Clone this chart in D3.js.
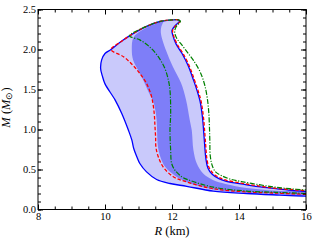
<!DOCTYPE html>
<html><head><meta charset="utf-8">
<script src="https://cdn.jsdelivr.net/npm/d3@7"></script>
<style>
html,body{margin:0;padding:0;background:#fff;}
svg{display:block;}
text{font-family:"Liberation Serif","Times New Roman",serif;fill:#000;}
</style></head>
<body>
<svg id="chart" width="317" height="244"></svg>
<script>
// ---- data (radius km, mass Msun) ----
const blueR = [16, 15.22, 14.23, 13.23, 12.44, 11.94, 11.54, 11.24, 11.04, 10.95, 10.86, 10.80, 10.70, 10.50, 10.30, 10.0, 9.92, 9.87, 9.90, 10.0, 10.18, 10.45, 10.73, 11.19, 11.64, 12.0, 12.19, 12.23, 12.1, 12.0, 12.03, 12.12, 12.3, 12.48, 12.64, 12.76, 12.84, 12.91, 12.95, 12.98, 13.01, 13.07, 13.2, 13.4, 13.6, 14.07, 14.57, 15.1, 15.56, 16];
const blueM = [0.166, 0.18, 0.20, 0.23, 0.29, 0.325, 0.375, 0.47, 0.575, 0.66, 0.76, 0.87, 0.99, 1.20, 1.37, 1.57, 1.67, 1.76, 1.87, 1.95, 2.0, 2.09, 2.17, 2.28, 2.35, 2.37, 2.37, 2.355, 2.3, 2.24, 2.17, 2.07, 1.95, 1.80, 1.62, 1.47, 1.35, 1.15, 0.95, 0.78, 0.64, 0.52, 0.44, 0.385, 0.355, 0.32, 0.285, 0.26, 0.24, 0.225];

const redR = [16, 15.1, 14.23, 13.23, 12.44, 12.04, 11.74, 11.59, 11.52, 11.51, 11.49, 11.47, 11.39, 11.24, 11.04, 10.84, 10.55, 10.18, 10.45, 10.73, 11.19, 11.64, 12.0, 12.19, 12.25, 12.12, 12.02, 12.05, 12.15, 12.33, 12.51, 12.67, 12.79, 12.87, 12.94, 12.98, 13.01, 13.04, 13.1, 13.23, 13.43, 13.63, 14.07, 14.57, 15.1, 15.56, 16];
const redM = [0.19, 0.205, 0.22, 0.26, 0.345, 0.41, 0.53, 0.66, 0.78, 0.91, 1.05, 1.20, 1.41, 1.575, 1.70, 1.80, 1.91, 2.0, 2.09, 2.17, 2.28, 2.35, 2.37, 2.37, 2.355, 2.3, 2.24, 2.17, 2.07, 1.95, 1.80, 1.62, 1.47, 1.35, 1.15, 0.95, 0.78, 0.64, 0.53, 0.45, 0.395, 0.365, 0.33, 0.295, 0.265, 0.25, 0.235];

const greenR = [16, 15.1, 14.23, 13.23, 12.49, 12.29, 12.09, 11.99, 11.96, 11.94, 11.96, 11.94, 11.89, 11.79, 11.59, 11.34, 11.04, 10.73, 11.19, 11.64, 12.0, 12.19, 12.25, 12.12, 12.08, 12.14, 12.27, 12.45, 12.63, 12.84, 12.98, 13.06, 13.1, 13.12, 13.13, 13.14, 13.2, 13.3, 13.47, 13.7, 14.07, 14.6, 15.07, 15.5, 16];
const greenM = [0.2, 0.215, 0.23, 0.28, 0.37, 0.41, 0.49, 0.575, 0.74, 0.99, 1.2, 1.49, 1.62, 1.76, 1.91, 2.03, 2.12, 2.17, 2.28, 2.35, 2.37, 2.37, 2.355, 2.28, 2.22, 2.14, 2.07, 1.97, 1.87, 1.72, 1.55, 1.37, 1.2, 1.0, 0.85, 0.68, 0.55, 0.47, 0.425, 0.385, 0.35, 0.31, 0.28, 0.26, 0.245];

const innerR = [11.75, 11.5, 11.1, 10.85, 10.80, 10.84, 10.99, 11.14, 11.3, 11.44, 11.52, 11.55, 11.56, 11.58, 11.65, 11.8, 12.1, 12.5, 13.23, 14.23, 15.1, 16, 16, 15.1, 14.23, 13.6, 13.22, 12.93, 12.74, 12.64, 12.59, 12.53, 12.42, 12.27, 12.03, 11.82, 11.67, 11.68, 11.75];
const innerM = [2.35, 2.32, 2.24, 2.15, 2.0, 1.87, 1.74, 1.62, 1.47, 1.35, 1.2, 1.05, 0.9, 0.78, 0.66, 0.53, 0.42, 0.33, 0.25, 0.212, 0.198, 0.183, 0.215, 0.235, 0.27, 0.32, 0.37, 0.45, 0.575, 0.74, 0.99, 1.12, 1.37, 1.58, 1.78, 1.99, 2.20, 2.28, 2.35];

const xMajor = [8, 10, 12, 14, 16];
const yMajor = [0, 0.5, 1.0, 1.5, 2.0, 2.5];
const yLabels = ["0.0", "0.5", "1.0", "1.5", "2.0", "2.5"];

// ---- layout ----
const L = 38, R = 306, T = 9.5, B = 209.5;
const svg = d3.select("#chart");
const x = d3.scaleLinear().domain([8, 16]).range([L, R]);
const y = d3.scaleLinear().domain([0, 2.5]).range([B, T]);

const pts = (rs, ms) => rs.map((r, i) => [r, ms[i]]);

svg.append("defs").append("clipPath").attr("id", "clip")
  .append("rect").attr("x", L).attr("y", T).attr("width", R - L).attr("height", B - T);

const g = svg.append("g").attr("clip-path", "url(#clip)");

const lineOpen = d3.line().x(d => x(d[0])).y(d => y(d[1])).curve(d3.curveCatmullRom.alpha(0.5));
const lineClosed = d3.line().x(d => x(d[0])).y(d => y(d[1])).curve(d3.curveCatmullRomClosed.alpha(0.5));

g.append("path").attr("d", lineClosed(pts(blueR, blueM))).attr("fill", "#c9c9fb").attr("stroke", "none");
g.append("path").attr("d", lineClosed(pts(innerR, innerM))).attr("fill", "#7e7ef8").attr("stroke", "none");

g.append("path").attr("d", lineOpen(pts(blueR, blueM))).attr("fill", "none")
  .attr("stroke", "#0000ff").attr("stroke-width", 1.3);
g.append("path").attr("d", lineOpen(pts(redR, redM))).attr("fill", "none")
  .attr("stroke", "#ff0000").attr("stroke-width", 1.3).attr("stroke-dasharray", "3.5,2");
g.append("path").attr("d", lineOpen(pts(greenR, greenM))).attr("fill", "none")
  .attr("stroke", "#008000").attr("stroke-width", 1.2).attr("stroke-dasharray", "5,1.5,1.2,1.5");

// ---- axes ----
const xMinor = d3.range(8, 16.001, 0.5);
const yMinor = d3.range(0, 2.5001, 0.1).map(v => +v.toFixed(2));

function styleAxis(sel) {
  sel.select(".domain").remove();
  sel.selectAll(".tick line").attr("stroke", "#000").attr("stroke-width", 1);
  sel.selectAll("text").attr("font-size", "10.5px").attr("font-family", "Liberation Serif, serif");
}

svg.append("g").attr("transform", `translate(0,${B})`)
  .call(d3.axisBottom(x).tickValues(xMinor).tickSize(-3).tickFormat("")).call(styleAxis);
svg.append("g").attr("transform", `translate(0,${B})`)
  .call(d3.axisBottom(x).tickValues(xMajor).tickSize(-5).tickPadding(3).tickFormat(d3.format("d"))).call(styleAxis);
svg.append("g").attr("transform", `translate(0,${T})`)
  .call(d3.axisTop(x).tickValues(xMinor).tickSize(-3).tickFormat("")).call(styleAxis);
svg.append("g").attr("transform", `translate(0,${T})`)
  .call(d3.axisTop(x).tickValues(xMajor).tickSize(-5).tickFormat("")).call(styleAxis);

svg.append("g").attr("transform", `translate(${L},0)`)
  .call(d3.axisLeft(y).tickValues(yMinor).tickSize(-3).tickFormat("")).call(styleAxis);
svg.append("g").attr("transform", `translate(${L},0)`)
  .call(d3.axisLeft(y).tickValues(yMajor).tickSize(-5).tickPadding(2).tickFormat((d, i) => yLabels[i])).call(styleAxis);
svg.append("g").attr("transform", `translate(${R},0)`)
  .call(d3.axisRight(y).tickValues(yMinor).tickSize(-3).tickFormat("")).call(styleAxis);
svg.append("g").attr("transform", `translate(${R},0)`)
  .call(d3.axisRight(y).tickValues(yMajor).tickSize(-5).tickFormat("")).call(styleAxis);

svg.append("rect").attr("x", L).attr("y", T).attr("width", R - L).attr("height", B - T)
  .attr("fill", "none").attr("stroke", "#000").attr("stroke-width", 1);

// ---- axis labels ----
const xl = svg.append("text").attr("x", (L + R) / 2).attr("y", 235).attr("text-anchor", "middle")
  .attr("font-size", "12.5px");
xl.append("tspan").attr("font-style", "italic").text("R");
xl.append("tspan").text(" (km)");

const yl = svg.append("text").attr("transform", `translate(10,${(T + B) / 2 - 2}) rotate(-90)`)
  .attr("text-anchor", "middle").attr("font-size", "12.5px");
yl.append("tspan").attr("font-style", "italic").text("M");
yl.append("tspan").text(" (");
yl.append("tspan").attr("font-style", "italic").text("M");
yl.append("tspan").attr("font-size", "9px").attr("dy", "2").text("⊙");
yl.append("tspan").attr("dy", "-2").text(")");
</script>
</body></html>
